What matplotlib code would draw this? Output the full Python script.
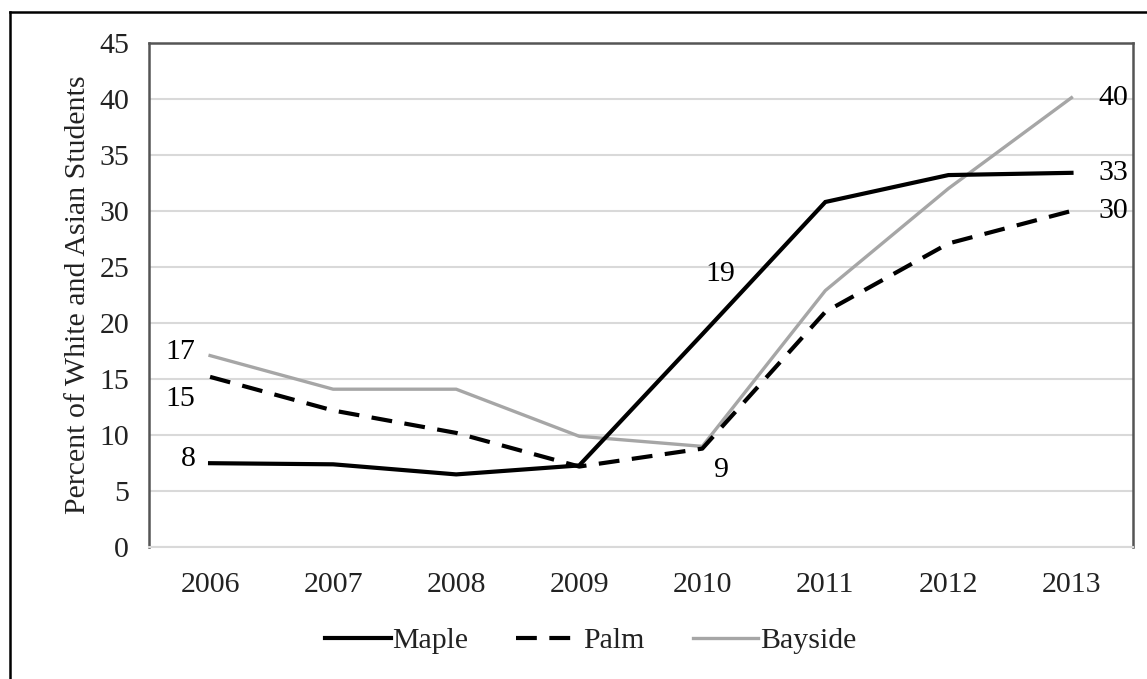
import matplotlib
matplotlib.use("Agg")
import matplotlib.pyplot as plt
from matplotlib.lines import Line2D

years = ['2006', '2007', '2008', '2009', '2010', '2011', '2012', '2013']
maple = [7.5, 7.4, 6.5, 7.3, 19.0, 30.8, 33.2, 33.4]
palm = [15.2, 12.2, 10.2, 7.2, 8.8, 21.0, 27.1, 30.0]
bayside = [17.1, 14.1, 14.1, 9.9, 9.0, 22.9, 32.0, 40.1]
yticks = [0, 5, 10, 15, 20, 25, 30, 35, 40, 45]

plt.rcParams['font.family'] = ['Liberation Serif', 'DejaVu Serif']

fig = plt.figure(figsize=(11.47, 6.79), dpi=100)
ax = fig.add_axes([0.1295, 0.194, 0.8583, 0.743])

x = list(range(len(years)))
ax.plot(x, maple, color='black', lw=3.0, label='Maple', solid_joinstyle='miter', zorder=4)
ax.plot(x, palm, color='black', lw=3.0, dashes=(5, 3), label='Palm', zorder=3)
ax.plot(x, bayside, color='#a6a6a6', lw=2.4, label='Bayside', zorder=2)

ax.set_xlim(-0.5, 7.5)
ax.set_ylim(0, 45)
ax.set_xticks(x)
ax.set_xticklabels(years)
ax.set_yticks(yticks)
ax.tick_params(length=0, labelsize=21.5, colors='#222222', pad=14)
ax.tick_params(axis='x', pad=18)
ax.grid(axis='y', color='#d9d9d9', lw=1.5)
ax.set_axisbelow(True)
for s in ['left', 'top', 'right']:
    ax.spines[s].set_color('#555555')
    ax.spines[s].set_linewidth(1.8)
ax.spines['bottom'].set_color('#d9d9d9')
ax.spines['bottom'].set_linewidth(1.5)

ax.set_ylabel('Percent of White and Asian Students', fontsize=21.5, color='#222222', labelpad=6)

# value labels
fs = 21.5
ax.text(-0.12, bayside[0] + 0.3, '17', ha='right', va='center', fontsize=fs)
ax.text(-0.12, palm[0] - 2.0, '15', ha='right', va='center', fontsize=fs)
ax.text(-0.12, maple[0] + 0.4, '8', ha='right', va='center', fontsize=fs)
ax.text(4.27, 24.4, '19', ha='right', va='center', fontsize=fs)
ax.text(4.16, 6.9, '9', ha='center', va='center', fontsize=fs)
ax.text(7.22, bayside[7], '40', ha='left', va='center', fontsize=fs)
ax.text(7.22, maple[7], '33', ha='left', va='center', fontsize=fs)
ax.text(7.22, palm[7], '30', ha='left', va='center', fontsize=fs)

fig.legend(loc='center', bbox_to_anchor=(0.515, 0.056), ncol=3, frameon=False,
           fontsize=21.5, handlelength=2.2, handletextpad=0.05, columnspacing=1.6,
           labelcolor='#222222')

# outer frame
fig.add_artist(Line2D([0.0087, 0.0087], [0.0, 0.982], color='black', lw=1.8, transform=fig.transFigure))
fig.add_artist(Line2D([0.0087, 1.0], [0.982, 0.982], color='black', lw=1.8, transform=fig.transFigure))

fig.savefig('out.png', dpi=100)
